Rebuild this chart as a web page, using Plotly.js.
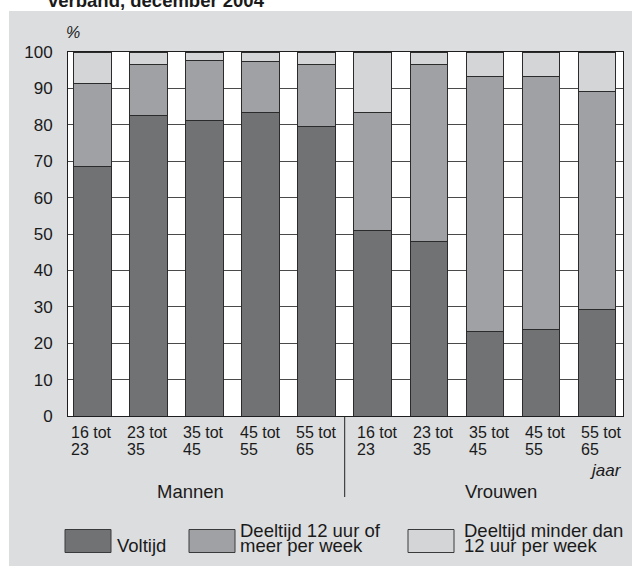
<!DOCTYPE html>
<html>
<head>
<meta charset="utf-8">
<script src="https://cdn.plot.ly/plotly-3.0.1.min.js"></script>
<style>html,body{margin:0;padding:0;background:#fff;}#chart{width:632px;height:566px;}</style>
</head>
<body>
<div id="chart"></div>
<script>
// ---- data ----
const groups = ['Mannen', 'Vrouwen'];
const categories = ['16 tot 23','23 tot 35','35 tot 45','45 tot 55','55 tot 65',
                    '16 tot 23','23 tot 35','35 tot 45','45 tot 55','55 tot 65'];
const tickTop = ['16 tot','23 tot','35 tot','45 tot','55 tot','16 tot','23 tot','35 tot','45 tot','55 tot'];
const tickBottom = ['23','35','45','55','65','23','35','45','55','65'];
const seriesNames = ['Voltijd', 'Deeltijd 12 uur of meer per week', 'Deeltijd minder dan 12 uur per week'];
const legendLines = [['Voltijd'], ['Deeltijd 12 uur of', 'meer per week'], ['Deeltijd minder dan', '12 uur per week']];
const voltijd    = [68.5, 82.6, 81.3, 83.4, 79.4, 51.0, 48.0, 23.1, 23.9, 29.2];
const deeltijd12 = [22.8, 13.9, 16.4, 13.9, 17.1, 32.5, 48.5, 70.3, 69.5, 59.9];
const minder12   = [ 8.7,  3.5,  2.3,  2.7,  3.5, 16.5,  3.5,  6.6,  6.6, 10.9];
const yTicks = [0,10,20,30,40,50,60,70,80,90,100];

// ---- layout helpers ----
const W = 632, H = 566, L = 68, R = 9, T = 52, B = 150;
const pw = W - L - R, ph = H - T - B;
const px2x = p => (p - L) / pw;
const px2y = p => 1 - (p - T) / ph;
const FONT = '"Liberation Sans", Arial, Helvetica, sans-serif';
const colors = ['#717274', '#a0a1a4', '#d4d5d7'];
const outline = '#2b2b2b';

const xs = categories.map((c, i) => i);
const values = [voltijd, deeltijd12, minder12];

const traces = values.map((v, k) => ({
  type: 'bar',
  x: xs,
  y: v,
  name: seriesNames[k],
  text: categories,
  marker: { color: colors[k], line: { color: outline, width: 1 } },
  hoverinfo: 'none',
  textposition: 'none',
  showlegend: false
}));

function txt(text, xpx, basePx, size, extra) {
  return Object.assign({
    text: text, xref: 'paper', yref: 'paper',
    x: px2x(xpx), y: px2y(basePx - 0.346 * size),
    xanchor: 'left', yanchor: 'middle', showarrow: false,
    borderpad: 0, borderwidth: 0,
    font: { family: FONT, size: size, color: '#1a1a1a' }
  }, extra || {});
}

const annotations = [];
// x tick labels (two lines, left aligned under each bar)
xs.forEach((x, i) => {
  const shift = i < 5 ? -21 : -16;
  [tickTop[i], tickBottom[i]].forEach((t, j) => {
    annotations.push({
      text: t, xref: 'x', yref: 'paper', x: x, xshift: shift,
      y: px2y((j === 0 ? 438.5 : 455.5) - 0.346 * 16),
      xanchor: 'left', yanchor: 'middle', showarrow: false,
      borderpad: 0, borderwidth: 0,
      font: { family: FONT, size: 16, color: '#1a1a1a' }
    });
  });
});
// group labels
annotations.push(Object.assign(txt(groups[0], 190, 498, 18.5), { xanchor: 'center' }));
annotations.push(Object.assign(txt(groups[1], 501, 498, 18.5), { xanchor: 'center' }));
// axis unit labels
annotations.push(txt('jaar', 622, 476, 17, { xanchor: 'right', font: { family: FONT, size: 17, color: '#1a1a1a', style: 'italic' } }));
annotations.push(txt('%', 66, 38.5, 16, { font: { family: FONT, size: 16, color: '#1a1a1a', style: 'italic' } }));
// clipped title at top
annotations.push(txt('<b>verband, december 2004</b>', 48, 6.5, 18.5));

// legend
const boxX = [65, 189, 408];
const textX = [117, 239.5, 464];
const shapes = [
  // white margins around grey panel
  { type: 'rect', xref: 'paper', yref: 'paper', x0: px2x(0), x1: px2x(9), y0: px2y(H), y1: px2y(0), fillcolor: '#ffffff', line: { width: 0 }, layer: 'below' },
  { type: 'rect', xref: 'paper', yref: 'paper', x0: px2x(0), x1: px2x(W), y0: px2y(11), y1: px2y(0), fillcolor: '#ffffff', line: { width: 0 }, layer: 'below' },
  // separator between groups
  { type: 'line', xref: 'x', yref: 'paper', x0: 4.5, x1: 4.5, y0: 0, y1: px2y(497), line: { color: '#222', width: 1 } }
];
seriesNames.forEach((n, k) => {
  shapes.push({ type: 'rect', xref: 'paper', yref: 'paper',
    x0: px2x(boxX[k]), x1: px2x(boxX[k] + 46), y0: px2y(552.5), y1: px2y(529.5),
    fillcolor: colors[k], line: { color: '#3a3a3a', width: 1 } });
  const lines = legendLines[k];
  lines.forEach((ln, j) => {
    const base = lines.length === 1 ? 552 : (j === 0 ? 536.5 : 552);
    annotations.push(txt(ln, textX[k], base, 18.5));
  });
});

const layout = {
  width: W, height: H,
  margin: { l: L, r: R, t: T, b: B, pad: 0 },
  paper_bgcolor: '#dcdddf',
  plot_bgcolor: '#ffffff',
  barmode: 'stack',
  bargap: 0.33,
  showlegend: false,
  font: { family: FONT, size: 16, color: '#1a1a1a' },
  xaxis: {
    range: [-0.433, 9.462],
    showticklabels: false, ticks: '', showgrid: false, zeroline: false,
    showline: true, mirror: true, linecolor: '#1e1e1e', linewidth: 1,
    fixedrange: true
  },
  yaxis: {
    range: [0, 100],
    tickvals: yTicks, ticktext: yTicks.map(String),
    ticks: 'outside', ticklen: 11, tickcolor: 'rgba(0,0,0,0)',
    tickfont: { family: FONT, size: 17, color: '#1a1a1a' },
    showgrid: true, gridcolor: '#4a4a4a', gridwidth: 1, zeroline: false,
    showline: true, mirror: true, linecolor: '#1e1e1e', linewidth: 1,
    fixedrange: true
  },
  annotations: annotations,
  shapes: shapes
};

Plotly.newPlot('chart', traces, layout, { displayModeBar: false, staticPlot: true });
</script>
</body>
</html>
